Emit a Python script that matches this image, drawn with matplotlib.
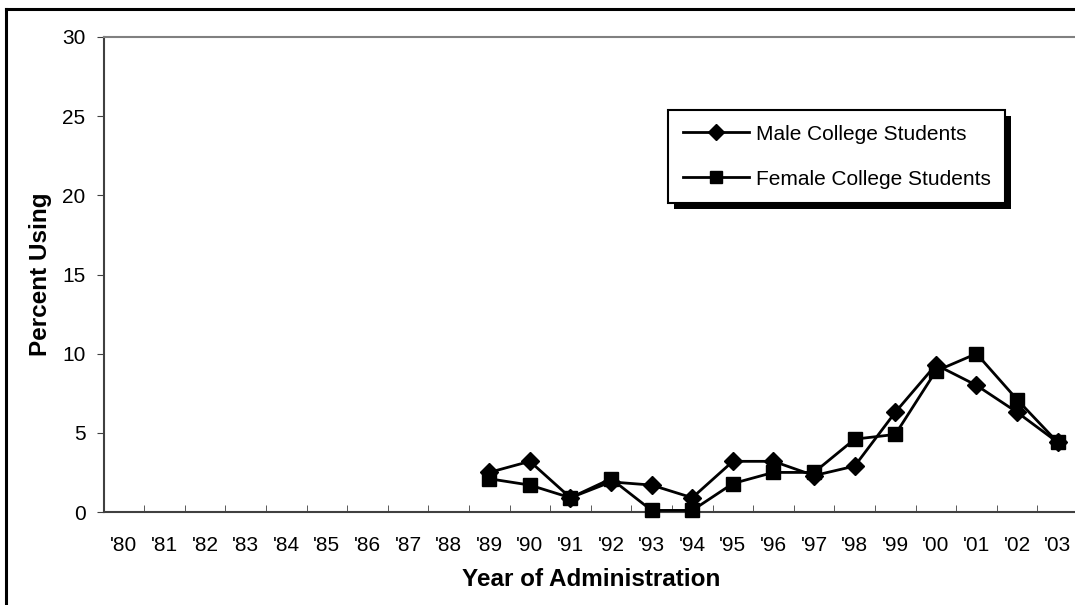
import matplotlib
matplotlib.use("Agg")
import matplotlib.pyplot as plt
from matplotlib.patches import Rectangle
from matplotlib.transforms import IdentityTransform
import numpy as np

# Survey years shown on the x axis
years = ["'80", "'81", "'82", "'83", "'84", "'85", "'86", "'87", "'88", "'89",
         "'90", "'91", "'92", "'93", "'94", "'95", "'96", "'97", "'98", "'99",
         "'00", "'01", "'02", "'03"]

# Data only exists from '89 onward
data_years = ["'89", "'90", "'91", "'92", "'93", "'94", "'95", "'96", "'97",
              "'98", "'99", "'00", "'01", "'02", "'03"]
male = [2.5, 3.2, 0.9, 1.9, 1.7, 0.9, 3.2, 3.2, 2.3, 2.9, 6.3, 9.3, 8.0, 6.3, 4.4]
female = [2.1, 1.7, 0.9, 2.1, 0.1, 0.1, 1.8, 2.5, 2.5, 4.6, 4.9, 8.9, 10.0, 7.1, 4.4]

plt.rcParams["font.family"] = ["Liberation Sans", "DejaVu Sans"]

W, H = 1075, 605
fig = plt.figure(figsize=(W / 100, H / 100), dpi=100)
fig.patch.set_facecolor("white")

# outer chart border (only left/top visible in the crop)
fig.add_artist(plt.Line2D([6 / W, 6 / W], [0, 1 - 9 / H], color="black", lw=2.2))
fig.add_artist(plt.Line2D([6 / W, 1], [1 - 9 / H, 1 - 9 / H], color="black", lw=2.2))

ax = fig.add_axes([103.5 / W, 1 - 512 / H, (1078 - 103.5) / W, (512 - 37) / H])

xpos = [years.index(y) for y in data_years]
ax.plot(xpos, male, color="black", lw=2.0, marker="D", markersize=9.5,
        label="Male College Students", clip_on=False, zorder=3)
ax.plot(xpos, female, color="black", lw=2.0, marker="s", markersize=10,
        label="Female College Students", clip_on=False, zorder=3)

ax.set_xlim(-0.5, len(years) - 0.5)
ax.set_ylim(0, 30)
ax.set_yticks(np.arange(0, 31, 5))
ax.set_xticks(np.arange(len(years)))
ax.set_xticklabels(years)
ax.set_xticks(np.arange(-0.5, len(years), 1.0), minor=True)
ax.tick_params(axis="x", which="major", length=0, pad=17, labelsize=15)
ax.tick_params(axis="x", which="minor", length=5, direction="in", color="#404040")
ax.tick_params(axis="y", length=5, direction="out", labelsize=15, pad=8, color="#404040")

for side in ["top", "left", "bottom", "right"]:
    ax.spines[side].set_color("#808080")
    ax.spines[side].set_linewidth(1.5)
ax.spines["left"].set_color("#404040")
ax.spines["bottom"].set_color("#404040")

ax.set_ylabel("Percent Using", fontsize=17.5, fontweight="bold", labelpad=7)
ax.set_xlabel("Year of Administration", fontsize=17.5, fontweight="bold", labelpad=10)

leg = ax.legend(loc="upper left", bbox_to_anchor=(668 / W, 1 - 110 / H),
                bbox_transform=fig.transFigure, borderaxespad=0, fontsize=15,
                frameon=True, fancybox=False, framealpha=1, handlelength=3.2,
                handletextpad=0.3, labelspacing=1.25, borderpad=0.7,
                markerscale=0.85)
leg.get_frame().set_edgecolor("black")
leg.get_frame().set_linewidth(1.5)
leg.set_zorder(6)

# hard black drop shadow behind legend box
fig.canvas.draw()
bb = leg.get_window_extent()
shadow = Rectangle((bb.x0 + 6, bb.y0 - 6), bb.width, bb.height,
                   transform=IdentityTransform(), facecolor="black",
                   edgecolor="none", zorder=5, clip_on=False)
ax.add_patch(shadow)

fig.savefig("out.png", dpi=100)
